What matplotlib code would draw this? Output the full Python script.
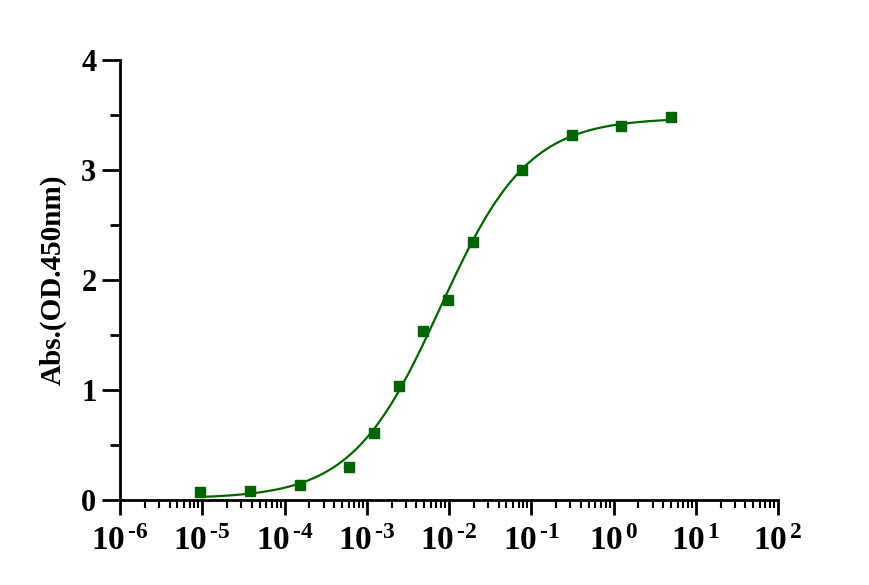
import numpy as np
import matplotlib
matplotlib.use("Agg")
import matplotlib.pyplot as plt
from matplotlib.ticker import FixedLocator, LogLocator, NullFormatter, MultipleLocator

# Data
conc = [9.5e-6, 3.8e-5, 1.53e-4, 6.1e-4, 1.22e-3, 2.44e-3, 4.88e-3, 9.77e-3,
        1.95e-2, 7.8e-2, 0.3125, 1.25, 5.0]
absorb = [0.07, 0.08, 0.14, 0.30, 0.61, 1.04, 1.54, 1.82, 2.35, 3.00, 3.32, 3.40, 3.48]
xtick_vals = [1e-6, 1e-5, 1e-4, 1e-3, 1e-2, 1e-1, 1e0, 1e1, 1e2]
xtick_exps = ["-6", "-5", "-4", "-3", "-2", "-1", "0", "1", "2"]
ytick_vals = [0, 1, 2, 3, 4]

# 4PL fit (grid search on EC50/hill, linear least squares for bottom/top)
x = np.array(conc)
y = np.array(absorb)
best = None
for lec in np.linspace(-3, -1, 201):
    for h in np.linspace(0.5, 1.5, 101):
        s = 1.0 / (1.0 + (10**lec / x) ** h)
        A = np.column_stack([1 - s, s])
        coef, *_ = np.linalg.lstsq(A, y, rcond=None)
        r = np.sum((A @ coef - y) ** 2)
        if best is None or r < best[0]:
            best = (r, lec, h, coef)
_, lec, h, (bot, top) = best
xf = np.logspace(np.log10(conc[0]), np.log10(conc[-1]), 400)
yf = bot + (top - bot) / (1.0 + (10**lec / xf) ** h)

plt.rcParams["font.family"] = ["Liberation Serif", "DejaVu Serif"]
plt.rcParams["mathtext.fontset"] = "custom"
plt.rcParams["mathtext.rm"] = "Liberation Serif:bold"
plt.rcParams["mathtext.bf"] = "Liberation Serif:bold"
plt.rcParams["mathtext.it"] = "Liberation Serif:bold"
plt.rcParams["axes.unicode_minus"] = False

green = "#006400"
fig = plt.figure(figsize=(8.7, 5.85), dpi=100)
ax = fig.add_axes([120 / 870, 85 / 585, 658 / 870, 440 / 585])
ax.plot(xf, yf, color=green, lw=1.6, zorder=2)
ax.plot(conc, absorb, ls="none", marker="s", ms=7, color=green, zorder=3, clip_on=False)

ax.set_xscale("log")
ax.set_xlim(1e-6, 1e2)
ax.set_ylim(0, 4)
for s in ["top", "right"]:
    ax.spines[s].set_visible(False)
for s in ["left", "bottom"]:
    ax.spines[s].set_linewidth(2)

ax.xaxis.set_major_locator(FixedLocator(xtick_vals))
ax.set_xticklabels(["10$^{\\,\\text{" + e + "}}$" for e in xtick_exps],
                   fontsize=24, fontweight="bold")
ax.xaxis.set_minor_locator(LogLocator(base=10, subs=np.arange(2, 10), numticks=20))
ax.xaxis.set_minor_formatter(NullFormatter())
ax.set_yticks(ytick_vals)
ax.set_yticklabels([str(v) for v in ytick_vals], fontsize=22, fontweight="bold")
ax.yaxis.set_minor_locator(MultipleLocator(0.5))

ax.tick_params(axis="x", which="major", direction="out", length=11, width=2, pad=8)
ax.tick_params(axis="y", which="major", direction="out", length=13, width=2, pad=4)
ax.tick_params(axis="x", which="minor", direction="out", length=6, width=1.5)
ax.tick_params(axis="y", which="minor", direction="out", length=7, width=2)

ax.set_ylabel("Abs.(OD.450nm)", fontsize=21, fontweight="bold", labelpad=10)

fig.savefig("out.png", dpi=100)
